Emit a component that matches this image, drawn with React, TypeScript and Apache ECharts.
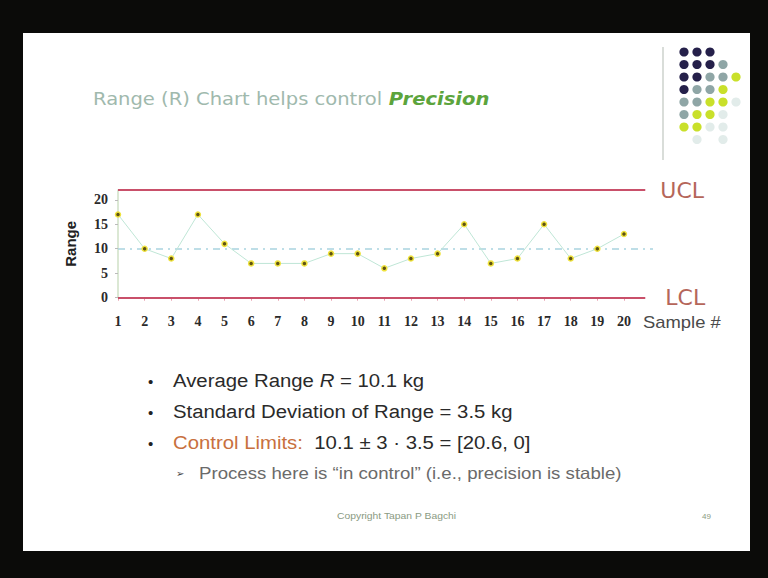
import React, { useEffect, useRef } from "react";
import * as echarts from "echarts";

// ---- data ----
const samples = [1, 2, 3, 4, 5, 6, 7, 8, 9, 10, 11, 12, 13, 14, 15, 16, 17, 18, 19, 20];
const ranges = [17, 10, 8, 17, 11, 7, 7, 7, 9, 9, 6, 8, 9, 15, 7, 8, 15, 8, 10, 13];
const yTicks = [0, 5, 10, 15, 20];
const meanRange = 10.1;
const uclDrawn = 22; // where the slide draws the UCL line
const lclDrawn = 0;
const limitEnd = 20.8; // UCL/LCL lines end just past sample 20
const axisMax = 21.09;

const bulletLines = [
  "{n|Average Range }{i|R}{n| = 10.1 kg}",
  "{n|Standard Deviation of Range = 3.5 kg}",
  "{o|Control Limits:}{n|  10.1 ± 3 · 3.5 = [20.6, 0]}",
];
const subBullet = "Process here is “in control” (i.e., precision is stable)";

// decorative dot matrix (D dark, G grey, Y yellow, L light, . none)
const dotRows = ["DDD", "DDDG", "DDGGY", "DGGY", "GGYYL", "GYYL", "YYLL", ".L.L"];
const dotColors: Record<string, string> = {
  D: "#25204a",
  G: "#8fa6a6",
  Y: "#c9e02a",
  L: "#e2ecea",
};

export default function App() {
  const ref = useRef<HTMLDivElement>(null);
  useEffect(() => {
    if (!ref.current) return;
    const chart = echarts.init(ref.current, null, { renderer: "svg" });

    const dots: any[] = [];
    dotRows.forEach((row, r) => {
      row.split("").forEach((c, k) => {
        if (c === ".") return;
        dots.push({
          type: "circle",
          shape: { cx: 684 + k * 13, cy: 52 + r * 12.5, r: 4.6 },
          style: { fill: dotColors[c] },
          silent: true,
        });
      });
    });

    const bulletFont = "Liberation Sans";
    const sx = 1.13;
    const graphics: any[] = [
      {
        type: "rect",
        z: -100,
        shape: { x: 23, y: 33, width: 727, height: 518 },
        style: { fill: "#ffffff" },
        silent: true,
      },
      {
        type: "text",
        x: 93,
        y: 99,
        scaleX: 1.15,
        style: {
          text: "{a|Range (R) Chart helps control }{b|Precision}",
          verticalAlign: "middle",
          rich: {
            a: { fontFamily: "DejaVu Sans", fontSize: 17, fill: "#a0b9ad" },
            b: {
              fontFamily: "DejaVu Sans",
              fontSize: 17,
              fill: "#5ca43c",
              fontStyle: "italic",
              fontWeight: "bold",
            },
          },
        },
      },
      {
        type: "line",
        shape: { x1: 663, y1: 47, x2: 663, y2: 160 },
        style: { stroke: "#d9ddd9", lineWidth: 2 },
        silent: true,
      },
      ...dots,
      {
        type: "text",
        x: 643,
        y: 322,
        scaleX: 1.15,
        style: {
          text: "Sample #",
          fontFamily: "Liberation Sans",
          fontSize: 16,
          fill: "#4a4a4a",
          verticalAlign: "middle",
        },
      },
      ...bulletLines.flatMap((t, i) => [
        {
          type: "text",
          x: 148,
          y: 381 + i * 31,
          style: { text: "•", fontSize: 15, fill: "#222", verticalAlign: "middle", fontFamily: bulletFont },
        },
        {
          type: "text",
          x: 173,
          y: 381 + i * 31,
          scaleX: sx,
          style: {
            text: t,
            verticalAlign: "middle",
            rich: {
              n: { fontFamily: bulletFont, fontSize: 18, fill: "#2a2a2a" },
              i: { fontFamily: bulletFont, fontSize: 18, fill: "#2a2a2a", fontStyle: "italic" },
              o: { fontFamily: bulletFont, fontSize: 18, fill: "#c8703e" },
            },
          },
        },
      ]),
      {
        type: "text",
        x: 176,
        y: 473,
        style: { text: "➢", fontSize: 10, fill: "#444", verticalAlign: "middle", fontFamily: "DejaVu Sans" },
      },
      {
        type: "text",
        x: 199,
        y: 473,
        scaleX: sx,
        style: {
          text: subBullet,
          fontFamily: bulletFont,
          fontSize: 16.5,
          fill: "#6a6a6a",
          verticalAlign: "middle",
        },
      },
      {
        type: "text",
        x: 337,
        y: 516,
        scaleX: 1.15,
        style: {
          text: "Copyright Tapan P Bagchi",
          fontFamily: bulletFont,
          fontSize: 9,
          fill: "#8a9a82",
          verticalAlign: "middle",
        },
      },
      {
        type: "text",
        x: 702,
        y: 516,
        style: { text: "49", fontFamily: bulletFont, fontSize: 8, fill: "#8a9a82", verticalAlign: "middle" },
      },
    ];

    const limitColor = "#c9506a";
    const limitLabel = {
      show: true,
      position: "end",
      fontFamily: "DejaVu Sans",
      fontSize: 22,
      color: "#b5665a",
    };

    chart.setOption({
      animation: false,
      backgroundColor: "#0b0b09",
      graphic: graphics,
      grid: { left: 118, top: 190, width: 535, height: 107.7 },
      xAxis: {
        type: "value",
        min: 1,
        max: axisMax,
        axisLine: { show: false },
        splitLine: { show: false },
        axisTick: {
          show: true,
          length: 3,
          customValues: samples,
          lineStyle: { color: "#e8a0b0", width: 1 },
        },
        axisLabel: {
          customValues: samples,
          fontFamily: "Liberation Serif",
          fontWeight: "bold",
          fontSize: 14,
          color: "#2a2a2a",
          margin: 17,
        },
      },
      yAxis: {
        type: "value",
        min: 0,
        max: uclDrawn,
        name: "Range",
        nameLocation: "middle",
        nameGap: 40,
        nameTextStyle: { fontFamily: "Liberation Sans", fontWeight: "bold", fontSize: 15, color: "#222" },
        splitLine: { show: false },
        axisLine: { show: true, lineStyle: { color: "#cfe0c6", width: 1.5 } },
        axisTick: { show: true, length: 3, customValues: yTicks, lineStyle: { color: "#bbb" } },
        axisLabel: {
          customValues: yTicks,
          fontFamily: "Liberation Serif",
          fontWeight: "bold",
          fontSize: 14,
          color: "#2a2a2a",
          margin: 10,
        },
      },
      series: [
        {
          type: "line",
          data: samples.map((s, i) => [s, ranges[i]]),
          symbol: "circle",
          symbolSize: 5,
          lineStyle: { color: "#bfe6d6", width: 1 },
          itemStyle: { color: "#5e5212", borderColor: "#efe23c", borderWidth: 1.5 },
          z: 5,
          markLine: {
            silent: true,
            symbol: ["none", "none"],
            animation: false,
            data: [
              [
                {
                  coord: [samples[0], uclDrawn],
                  lineStyle: { color: limitColor, width: 2, type: "solid" },
                  label: { ...limitLabel, formatter: "UCL", distance: 15 },
                },
                { coord: [limitEnd, uclDrawn] },
              ],
              [
                {
                  coord: [samples[0], lclDrawn],
                  lineStyle: { color: limitColor, width: 2, type: "solid" },
                  label: { ...limitLabel, formatter: "LCL", distance: 20 },
                },
                { coord: [limitEnd, lclDrawn] },
              ],
              [
                {
                  coord: [samples[0], meanRange],
                  lineStyle: { color: "#a9d3e0", width: 1.5, type: [7, 5, 2, 5] },
                  label: { show: false },
                },
                { coord: [axisMax, meanRange] },
              ],
            ],
          },
        },
      ],
    });
    return () => chart.dispose();
  }, []);

  return (
    <div style={{ position: "fixed", left: 0, top: 0, width: 768, height: 578 }}>
      <div ref={ref} style={{ width: 768, height: 578 }} />
    </div>
  );
}
